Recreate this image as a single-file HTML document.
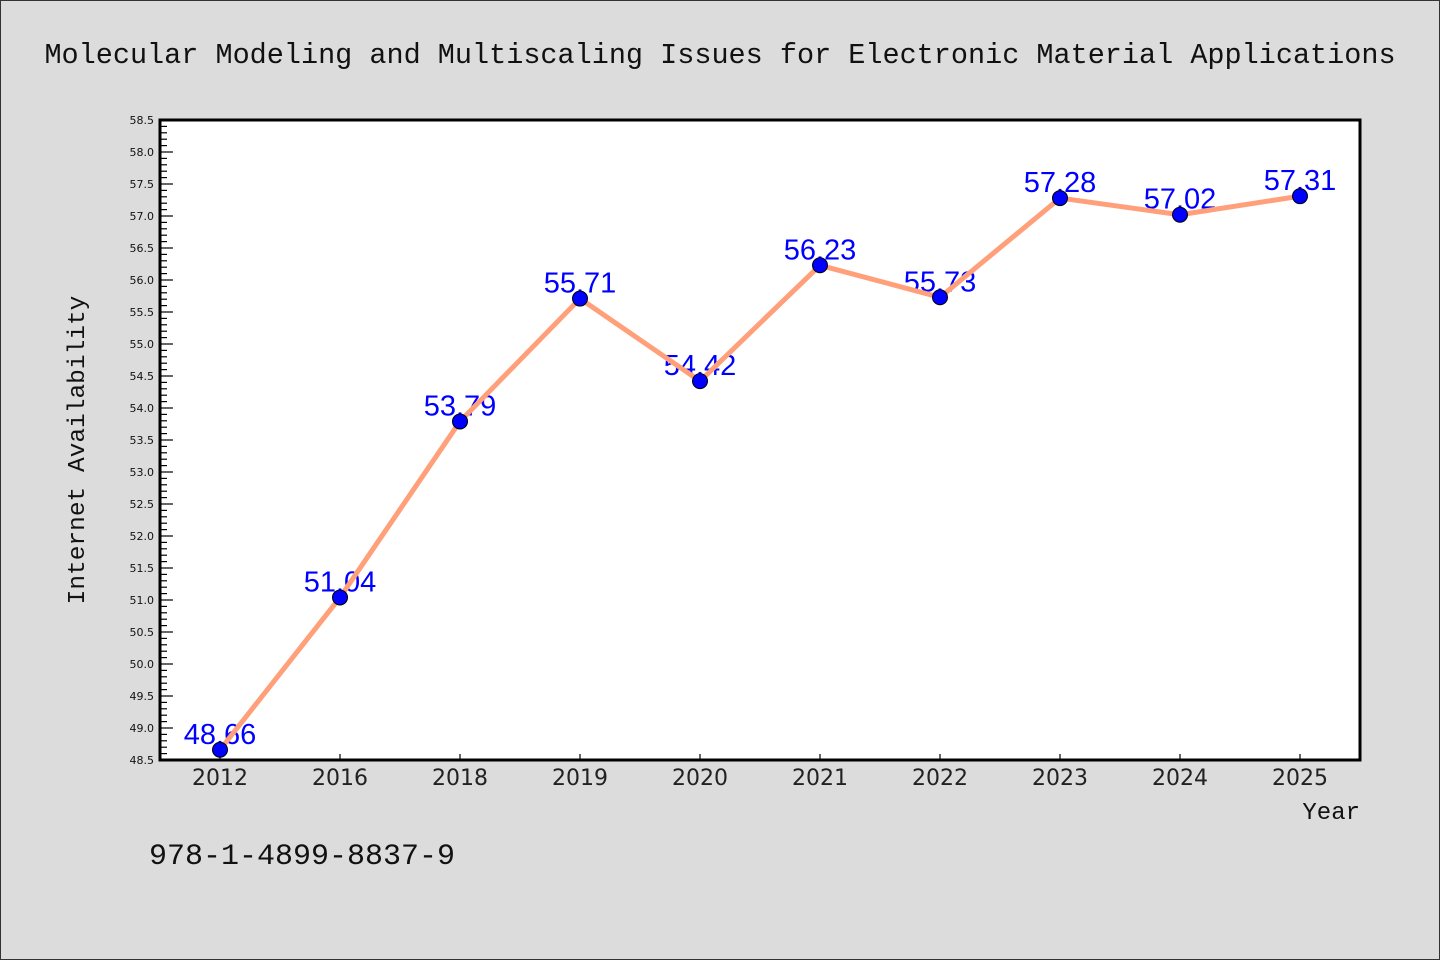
<!DOCTYPE html>
<html><head><meta charset="utf-8"><style>
html,body{margin:0;padding:0;background:#dcdcdc;}
svg{display:block;}
</style></head><body>
<svg width="1440" height="960" xmlns="http://www.w3.org/2000/svg">
<rect x="0.5" y="0.5" width="1439" height="959" fill="#dcdcdc" stroke="#333"/>
<text x="720" y="63" text-anchor="middle" font-family="Liberation Mono, monospace" font-size="28.5" fill="#111">Molecular Modeling and Multiscaling Issues for Electronic Material Applications</text>
<rect x="160" y="120" width="1200" height="640" fill="#fff"/>
<g id="yticks"></g>
<g id="xticks"></g>
<g id="labels"></g>
<polyline id="line" fill="none" stroke="#ffa07a" stroke-width="5" stroke-linejoin="round"/>
<g id="points"></g>
<rect x="160" y="120" width="1200" height="640" fill="none" stroke="#000" stroke-width="3"/>
<text transform="translate(84,450) rotate(-90)" text-anchor="middle" font-family="Liberation Mono, monospace" font-size="24.5" fill="#111">Internet Availability</text>
<text x="1360" y="819" text-anchor="end" font-family="Liberation Mono, monospace" font-size="24" fill="#111">Year</text>
<text x="149" y="864" font-family="Liberation Mono, monospace" font-size="30" fill="#111">978-1-4899-8837-9</text>
</svg>
<script>
const categories = ["2012","2016","2018","2019","2020","2021","2022","2023","2024","2025"];
const values = [48.66,51.04,53.79,55.71,54.42,56.23,55.73,57.28,57.02,57.31];
const valueLabels = ["48.66","51.04","53.79","55.71","54.42","56.23","55.73","57.28","57.02","57.31"];
const yMin = 48.5, yMax = 58.5;
const NS = "http://www.w3.org/2000/svg";
const L=160,R=1360,T=120,B=760;
function xs(i){return L+(R-L)/categories.length*(i+0.5);}
function ys(v){return B-(v-yMin)/(yMax-yMin)*(B-T);}
function mk(tag,attrs,parent){const e=document.createElementNS(NS,tag);for(const k in attrs)e.setAttribute(k,attrs[k]);parent.appendChild(e);return e;}
const yt=document.getElementById('yticks');
for(let k=0;k<=100;k++){
  const v=yMin+k*0.1;const y=ys(v);const major=k%5===0;
  const t=mk('line',{x1:L,x2:L+(major?13:7),y1:y,y2:y,stroke:'#000','stroke-width':1.2},yt);
  
  
  if(major){
    const tx=mk('text',{x:L-6,y:y+4,'text-anchor':'end','font-family':'DejaVu Sans, sans-serif','font-size':11,fill:'#111'},yt);
    tx.textContent=v.toFixed(1);
    
    
  }
}
const xt=document.getElementById('xticks');
categories.forEach((c,i)=>{
  const x=xs(i);
  const t=mk('line',{x1:x,x2:x,y1:B,y2:B-6,stroke:'#000','stroke-width':1.2},xt);
  
  
  const tx=mk('text',{x:x,y:B+25,'text-anchor':'middle','font-family':'DejaVu Sans, sans-serif','font-size':22,fill:'#222'},xt);
  tx.textContent=c;
  
  
});
const lb=document.getElementById('labels');
values.forEach((v,i)=>{
  const tx=mk('text',{x:xs(i),y:ys(v)-6,'text-anchor':'middle','font-family':'Liberation Sans, Arial, sans-serif','font-size':29,fill:'#0000ff'},lb);
  tx.textContent=valueLabels[i];
  
  
});
document.getElementById('line').setAttribute('points',values.map((v,i)=>xs(i)+','+ys(v)).join(' '));
const pts=document.getElementById('points');
values.forEach((v,i)=>{
  const c=mk('circle',{cx:xs(i),cy:ys(v),r:7.5,fill:'#0000ff',stroke:'#000','stroke-width':1},pts);
  
  
});
</script>
</body></html>
